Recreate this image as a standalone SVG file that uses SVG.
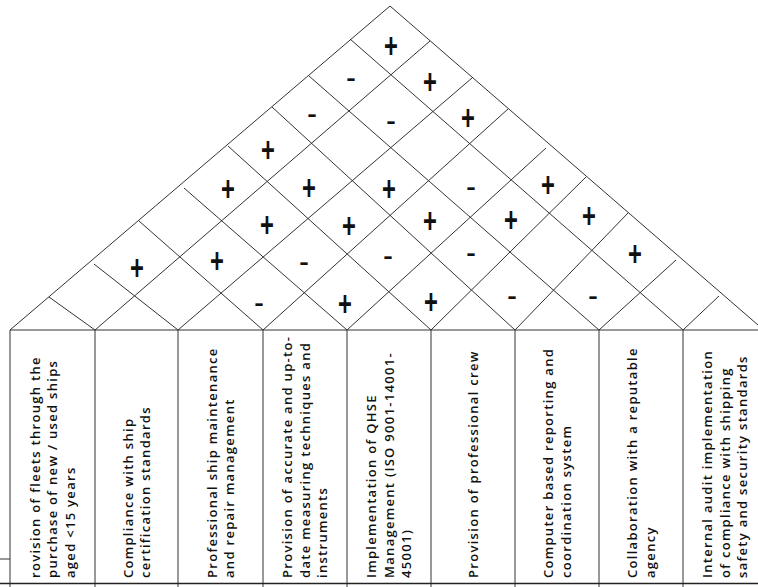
<svg xmlns="http://www.w3.org/2000/svg" width="758" height="587" viewBox="0 0 758 587">
<style>
.ln{stroke:#333;stroke-width:1;fill:none}
.bt{stroke:#222;stroke-width:1.6;fill:none}
.t{font-family:"Open Sans",sans-serif;font-size:13px;font-weight:600;letter-spacing:1.3px;fill:#111}
.p{font-family:"Liberation Sans",Arial,sans-serif;font-size:22px;font-weight:bold;text-anchor:middle;fill:#111}
.m{font-family:"Liberation Sans",Arial,sans-serif;font-size:22px;font-weight:bold;text-anchor:middle;fill:#111}
</style>
<rect width="758" height="587" fill="#fff"/>
<g id="connectors">
<g id="roof-grid" class="ln">
<path d="M10,330 L390,6 L758,325"/>
<path d="M95,330 L430,41"/>
<path d="M178,330 L472,78"/>
<path d="M263,330 L508,109"/>
<path d="M347,330 L546,148"/>
<path d="M431,330 L586,177"/>
<path d="M515,330 L628,213"/>
<path d="M599,330 L676,260"/>
<path d="M683,330 L719,296"/>
<path d="M95,330 L49,297"/>
<path d="M178,330 L94,264"/>
<path d="M263,330 L139,221"/>
<path d="M347,330 L184,188"/>
<path d="M431,330 L228,146"/>
<path d="M515,330 L272,107"/>
<path d="M599,330 L309,76"/>
<path d="M683,330 L350,39"/>
</g>
<g id="table-lines" class="ln">
<path d="M10,330 H758"/>
<path d="M0,559 H10"/>
<path d="M10,330 V587 M95,330 V587 M178,330 V587 M263,330 V587 M347,330 V587 M431,330 V587 M515,330 V587 M599,330 V587 M683,330 V587"/>
</g>
<path class="bt" d="M0,583.5 H758"/>
</g>
<g id="correlations">
<text class="p" transform="translate(391,45) scale(1.08,1.62)" y="7.77">+</text>
<text class="p" transform="translate(430,81) scale(1.08,1.62)" y="7.77">+</text>
<text class="p" transform="translate(468,117) scale(1.08,1.62)" y="7.77">+</text>
<text class="p" transform="translate(268,149) scale(1.08,1.62)" y="7.77">+</text>
<text class="p" transform="translate(228,188) scale(1.08,1.62)" y="7.77">+</text>
<text class="p" transform="translate(309,187) scale(1.08,1.62)" y="7.77">+</text>
<text class="p" transform="translate(389,188) scale(1.08,1.62)" y="7.77">+</text>
<text class="p" transform="translate(548,184) scale(1.08,1.62)" y="7.77">+</text>
<text class="p" transform="translate(267,224) scale(1.08,1.62)" y="7.77">+</text>
<text class="p" transform="translate(349,225) scale(1.08,1.62)" y="7.77">+</text>
<text class="p" transform="translate(430,220) scale(1.08,1.62)" y="7.77">+</text>
<text class="p" transform="translate(511,219) scale(1.08,1.62)" y="7.77">+</text>
<text class="p" transform="translate(589,215) scale(1.08,1.62)" y="7.77">+</text>
<text class="p" transform="translate(137,267) scale(1.08,1.62)" y="7.77">+</text>
<text class="p" transform="translate(217,260) scale(1.08,1.62)" y="7.77">+</text>
<text class="p" transform="translate(635,253) scale(1.08,1.62)" y="7.77">+</text>
<text class="p" transform="translate(345,303) scale(1.08,1.62)" y="7.77">+</text>
<text class="p" transform="translate(431,301) scale(1.08,1.62)" y="7.77">+</text>
<text class="m" transform="translate(351,79) scale(1.3,1)" y="5.6">-</text>
<text class="m" transform="translate(312,115) scale(1.3,1)" y="5.6">-</text>
<text class="m" transform="translate(391,122) scale(1.3,1)" y="5.6">-</text>
<text class="m" transform="translate(471,188) scale(1.3,1)" y="5.6">-</text>
<text class="m" transform="translate(304,263) scale(1.3,1)" y="5.6">-</text>
<text class="m" transform="translate(388,257) scale(1.3,1)" y="5.6">-</text>
<text class="m" transform="translate(471,254) scale(1.3,1)" y="5.6">-</text>
<text class="m" transform="translate(259,304) scale(1.3,1)" y="5.6">-</text>
<text class="m" transform="translate(512,297) scale(1.3,1)" y="5.6">-</text>
<text class="m" transform="translate(593,297) scale(1.3,1)" y="5.6">-</text>
</g>
<g transform="rotate(-90)">
<g id="col1" class="t"><text x="-578" y="39.75">rovision of fleets through the</text><text x="-578" y="57.25">purchase of new / used ships</text><text x="-578" y="74.75">aged &lt;15 years</text></g>
<g id="col2" class="t"><text x="-578" y="132.5">Compliance with ship</text><text x="-578" y="150">certification standards</text></g>
<g id="col3" class="t"><text x="-578" y="216.5">Professional ship maintenance</text><text x="-578" y="234">and repair management</text></g>
<g id="col4" class="t"><text x="-578" y="292.25">Provision of accurate and up-to-</text><text x="-578" y="309.75">date measuring techniques and</text><text x="-578" y="327.25">instruments</text></g>
<g id="col5" class="t"><text x="-578" y="376.25">Implementation of QHSE</text><text x="-578" y="393.75">Management (ISO 9001-14001-</text><text x="-578" y="411.25">45001)</text></g>
<g id="col6" class="t"><text x="-578" y="477.75">Provision of professional crew</text></g>
<g id="col7" class="t"><text x="-578" y="553">Computer based reporting and</text><text x="-578" y="570.5">coordination system</text></g>
<g id="col8" class="t"><text x="-578" y="637">Collaboration with a reputable</text><text x="-578" y="654.5">agency</text></g>
<g id="col9" class="t"><text x="-578" y="712.25">Internal audit implementation</text><text x="-578" y="729.75">of compliance with shipping</text><text x="-578" y="747.25">safety and security standards</text></g>
</g>
</svg>
